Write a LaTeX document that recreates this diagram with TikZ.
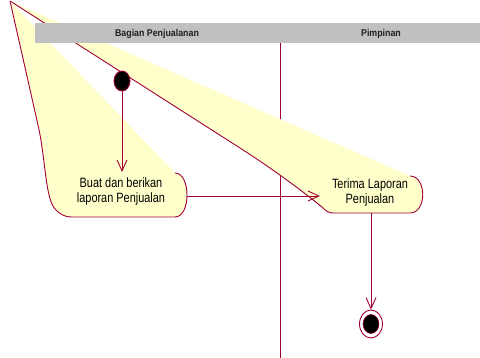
\documentclass[tikz,border=0pt]{standalone}
\usepackage{fontspec}
\setmainfont{Liberation Sans}
\newfontfamily\actfont[FakeStretch=0.81]{Liberation Sans}
\newfontfamily\lanefont[FakeStretch=0.9]{Liberation Sans}
\usetikzlibrary{arrows.meta,shapes.geometric}
\definecolor{wire}{RGB}{160,0,56}
\definecolor{actfill}{RGB}{255,255,204}
\definecolor{band}{RGB}{192,192,192}
\tikzset{
  wire/.style={draw=wire, line width=0.9pt},
  flow/.style={wire, -{Straight Barb[length=11pt,width=10pt]}},
  actlabel/.style={font=\actfont\fontsize{13.5}{15}\selectfont, align=center, inner sep=0pt},
  lanelabel/.style={font=\lanefont\bfseries\fontsize{9.8}{11}\selectfont, text=black!88, inner sep=0pt},
  initstate/.style={ellipse, draw=wire, line width=0.9pt, fill=black, minimum width=16pt, minimum height=20pt, inner sep=0pt},
  finalring/.style={ellipse, draw=wire, line width=0.9pt, fill=white, minimum width=23pt, minimum height=28pt, inner sep=0pt},
  finaldot/.style={ellipse, draw=wire, line width=0.5pt, fill=black, minimum width=16pt, minimum height=19pt, inner sep=0pt},
}
\begin{document}
\begin{tikzpicture}[x=1pt,y=-1pt]
\useasboundingbox (0,0) rectangle (480,358);

% lane divider
\coordinate (divtop) at (280,43);
\coordinate (divbot) at (280,358);
\draw[wire] (divtop) -- (divbot);

% shared corner of the two activity outlines
\coordinate (apex) at (10,1);

% activity "Terima Laporan Penjualan"
\fill[actfill] (apex) -- (240,148) .. controls (276,171) and (306,194) .. (322,207)
  .. controls (326,211) and (328,213) .. (334,213) -- (410,213)
  .. controls (427,213) and (427,176) .. (410,176) -- cycle;
\draw[wire] (apex) -- (240,148) .. controls (276,171) and (306,194) .. (322,207)
  .. controls (326,211) and (328,213) .. (334,213) -- (410,213)
  .. controls (427,213) and (427,176) .. (410,176);

% activity "Buat dan berikan laporan Penjualan"
\fill[actfill] (apex) -- (38,125) .. controls (46,160) and (45,200) .. (56,210)
  .. controls (60,214) and (64,217) .. (72,217) -- (175,217)
  .. controls (191,217) and (191,173) .. (175,173) -- cycle;
\draw[wire] (apex) -- (38,125) .. controls (46,160) and (45,200) .. (56,210)
  .. controls (60,214) and (64,217) .. (72,217) -- (175,217)
  .. controls (191,217) and (191,173) .. (175,173);

% swimlane header
\fill[band] (35,23) rectangle (480,43);
\node[lanelabel] (lane1) at (157,33.5) {Bagian Penjualanan};
\node[lanelabel] (lane2) at (381,33.5) {Pimpinan};

% activity labels and attach points
\node[actlabel] (act1) at (121,191.3) {Buat dan berikan\\laporan Penjualan};
\node[actlabel] (act2) at (370,193) {Terima Laporan\\Penjualan};
\coordinate (a1in) at (122,172);
\coordinate (a1out) at (187,196);
\coordinate (a2in) at (320,196);
\coordinate (a2out) at (371,213);

% start and end states
\node[initstate] (start) at (122,81) {};
\node[finalring] (end) at (371,324) {};
\node[finaldot] (enddot) at (end.center) {};

% transitions
\draw[flow] (start) -- (a1in);
\draw[flow] (a1out) -- (a2in);
\draw[flow] (a2out) -- (end.north);
\end{tikzpicture}
\end{document}
